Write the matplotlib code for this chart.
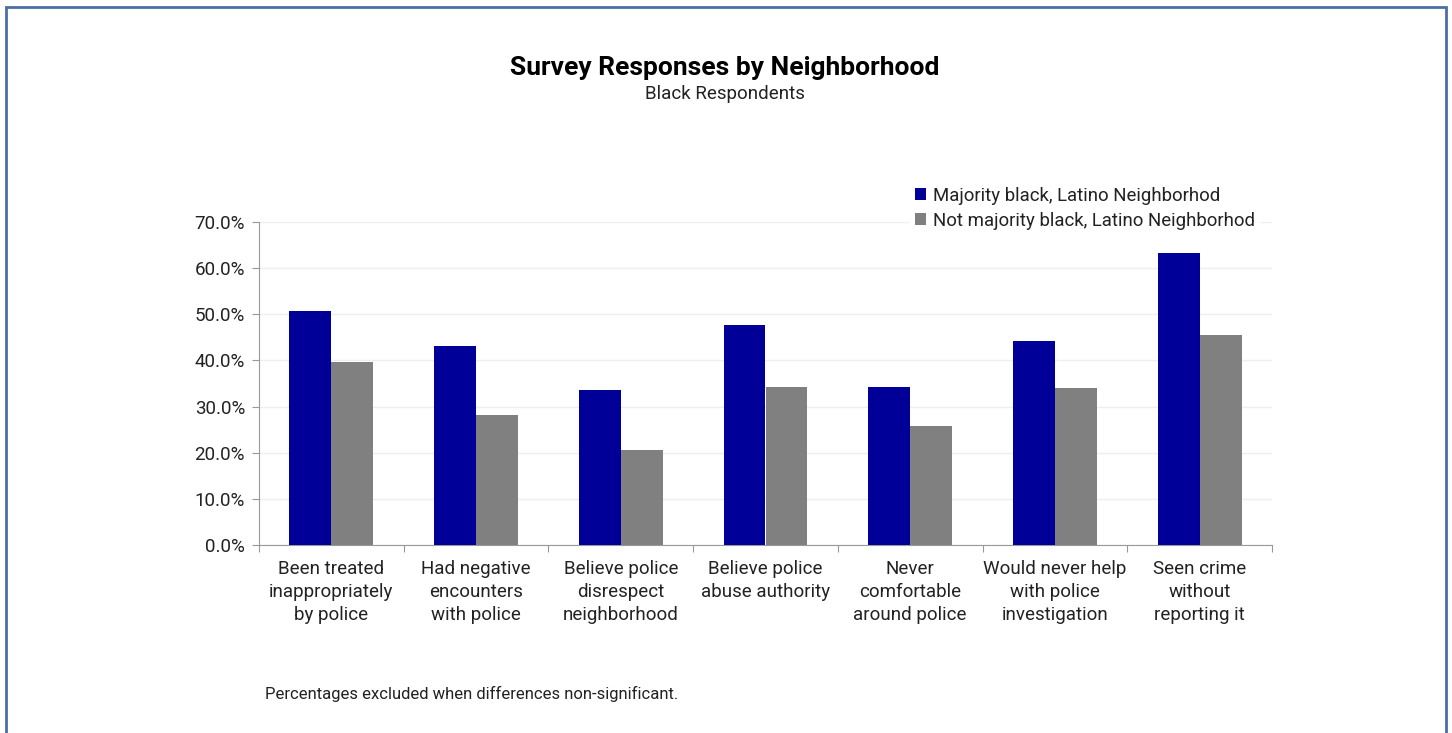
import matplotlib.pyplot as plt
import numpy as np
from matplotlib.patches import Rectangle
from matplotlib.ticker import FuncFormatter

# -------------------------------------------------
# Data
# -------------------------------------------------

categories = [
    "Been treated\ninappropriately\nby police",
    "Had negative\nencounters\nwith police",
    "Believe police\ndisrespect\nneighborhood",
    "Believe police\nabuse authority",
    "Never\ncomfortable\naround police",
    "Would never help\nwith police\ninvestigation",
    "Seen crime\nwithout\nreporting it",
]

majority = [50.7, 43.1, 33.6, 47.7, 34.2, 44.2, 63.3]
not_majority = [39.7, 28.2, 20.6, 34.2, 25.8, 34.0, 45.5]

series_labels = [
    "Majority black, Latino Neighborhod",
    "Not majority black, Latino Neighborhod",
]

BLUE = "#000099"
GRAY = "#808080"
FRAME = "#4A6FA5"

plt.rcParams["font.family"] = ["Roboto", "DejaVu Sans"]

# -------------------------------------------------
# Figure
# -------------------------------------------------

fig = plt.figure(figsize=(14.52, 7.33), dpi=100)
W, H = 1452, 733

# outer frame
fig.patches.append(Rectangle((6 / W, -0.05), (1446 - 6) / W, (H - 7) / H + 0.05,
                             transform=fig.transFigure, fill=False,
                             edgecolor=FRAME, linewidth=2))

ax = fig.add_axes([259 / W, 1 - 545 / H, (1272 - 259) / W, (545 - 222) / H])

x = np.arange(len(categories))
bw = 0.29
ax.bar(x - bw / 2, majority, bw, color=BLUE, label=series_labels[0], zorder=3)
ax.bar(x + bw / 2, not_majority, bw, color=GRAY, label=series_labels[1], zorder=3)

ax.set_xlim(-0.5, len(categories) - 0.5)
ax.set_ylim(0, 70)
ax.set_yticks(np.arange(0, 71, 10))
ax.yaxis.set_major_formatter(FuncFormatter(lambda v, _: f"{v:.1f}%"))
ax.set_xticks(np.arange(-0.5, len(categories), 1))
ax.set_xticklabels([])
ax.set_xticks(x, minor=True)
ax.set_xticklabels(categories, minor=True, fontsize=13.5, color="#222222",
                   linespacing=1.33)
ax.tick_params(axis="x", which="minor", length=0, pad=11)
ax.tick_params(axis="x", which="major", length=5, color="#999999")
ax.tick_params(axis="y", length=5, color="#999999", labelsize=13.5,
               labelcolor="#222222", pad=5)

ax.grid(axis="y", color="#EEEEEE", linewidth=1, zorder=0)
for side in ["top", "right"]:
    ax.spines[side].set_visible(False)
for side in ["left", "bottom"]:
    ax.spines[side].set_color("#999999")

leg = ax.legend(loc="upper left", bbox_to_anchor=(900 / W, 1 - 172 / H),
                bbox_transform=fig.transFigure, frameon=True, fancybox=False,
                edgecolor="white", facecolor="white", framealpha=1,
                fontsize=13.4, handlelength=0.6, handleheight=0.6,
                handletextpad=0.35, labelspacing=0.36, borderpad=0.3)
for t in leg.get_texts():
    t.set_color("#222222")

fig.text(725 / W, 1 - 68 / H, "Survey Responses by Neighborhood",
         ha="center", va="center", fontsize=19, fontweight="bold", color="black")
fig.text(725 / W, 1 - 94 / H, "Black Respondents",
         ha="center", va="center", fontsize=13.5, color="#222222")
fig.text(265 / W, 1 - 694 / H, "Percentages excluded when differences non-significant.",
         ha="left", va="center", fontsize=12, color="#222222")

fig.savefig("out.png", dpi=100)
